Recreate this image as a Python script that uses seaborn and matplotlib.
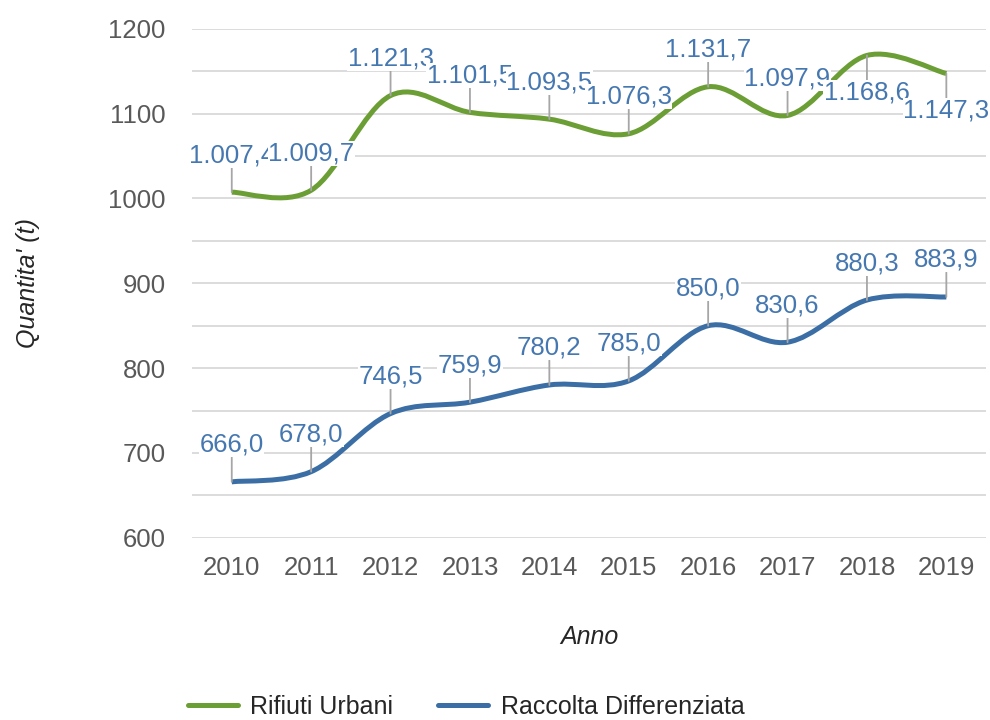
import numpy as np
import matplotlib
matplotlib.use("Agg")
import matplotlib.pyplot as plt
from matplotlib.path import Path
from matplotlib.patches import PathPatch
from matplotlib.lines import Line2D
import seaborn as sns

anni = ["2010", "2011", "2012", "2013", "2014", "2015", "2016", "2017", "2018", "2019"]
rifiuti_urbani = [1007.4, 1009.7, 1121.3, 1101.5, 1093.5, 1076.3, 1131.7, 1097.9, 1168.6, 1147.3]
raccolta_diff = [666.0, 678.0, 746.5, 759.9, 780.2, 785.0, 850.0, 830.6, 880.3, 883.9]
# labels of the last two green points sit below the line
posizione_rifiuti = ["su"] * 8 + ["giu", "giu"]
posizione_raccolta = ["su"] * 10

VERDE = "#6b9e34"
BLU = "#3b6ea5"
BLU_TESTO = "#4577b0"


def smooth_path(ys):
    """ Excel-like smoothed line: Catmull-Rom segments as cubic Bezier """
    xs = np.arange(len(ys), dtype=float)
    pts = np.column_stack([xs, np.asarray(ys, dtype=float)])
    verts = [pts[0]]
    codes = [Path.MOVETO]
    n = len(pts)
    for i in range(n - 1):
        p0 = pts[max(i - 1, 0)]
        p1 = pts[i]
        p2 = pts[i + 1]
        p3 = pts[min(i + 2, n - 1)]
        c1 = p1 + (p2 - p0) / 6.0
        c2 = p2 - (p3 - p1) / 6.0
        verts += [c1, c2, p2]
        codes += [Path.CURVE4] * 3
    return Path(verts, codes)


def fmt_it(v):
    return f"{v:,.1f}".replace(",", "X").replace(".", ",").replace("X", ".")


sns.set_theme(style="white")
plt.rcParams["font.family"] = ["Liberation Sans", "DejaVu Sans"]

fig = plt.figure(figsize=(9.9, 7.2), dpi=100)
ax = fig.add_axes([0.194, 0.253, 0.802, 0.707])

for valori, colore in [(rifiuti_urbani, VERDE), (raccolta_diff, BLU)]:
    patch = PathPatch(smooth_path(valori), facecolor="none", edgecolor=colore,
                      lw=3.6, capstyle="butt", zorder=3)
    ax.add_patch(patch)

for valori, pos in [(rifiuti_urbani, posizione_rifiuti), (raccolta_diff, posizione_raccolta)]:
    for i, v in enumerate(valori):
        dy = 37 if pos[i] == "su" else -37
        ax.annotate(fmt_it(v), xy=(i, v), xytext=(0, dy), textcoords="offset pixels",
                    ha="center", va="center", fontsize=18.5, color=BLU_TESTO,
                    bbox=dict(boxstyle="square,pad=0.02", fc="white", ec="none"),
                    arrowprops=dict(arrowstyle="-", color="#a6a6a6", lw=1.3,
                                    shrinkA=0, shrinkB=0),
                    zorder=5)

ax.set_xlim(-0.5, len(anni) - 0.5)
ax.set_ylim(600, 1200)
ax.set_xticks(range(len(anni)))
ax.set_xticklabels(anni)
ax.set_yticks(np.arange(600, 1201, 100))
ax.set_yticks(np.arange(650, 1200, 100), minor=True)
ax.grid(True, which="both", axis="y", color="#d9d9d9", lw=1.3)
ax.set_axisbelow(True)
ax.tick_params(axis="x", length=0, pad=13, labelsize=18.5, labelcolor="#595959")
ax.tick_params(axis="y", which="both", length=0, pad=19, labelsize=18.5, labelcolor="#595959")
sns.despine(ax=ax, left=True, bottom=True)

ax.set_xlabel("Anno", fontsize=18, style="italic", color="#262626")
ax.set_ylabel("Quantita' (t)", fontsize=18, style="italic", color="#262626")
ax.xaxis.set_label_coords(0.5, -0.171)
ax.yaxis.set_label_coords(-0.191, 0.5)

maniglie = [Line2D([], [], color=VERDE, lw=3.6), Line2D([], [], color=BLU, lw=3.6)]
ax.legend(maniglie, ["Rifiuti Urbani", "Raccolta Differenziata"])
sns.move_legend(ax, "center", bbox_to_anchor=(0.471, 0.018),
                bbox_transform=fig.transFigure, ncol=2, frameon=False,
                fontsize=18, handlelength=2.0, handletextpad=0.5,
                columnspacing=1.8, labelcolor="#262626")

fig.savefig("out.png", dpi=100, facecolor="white")
